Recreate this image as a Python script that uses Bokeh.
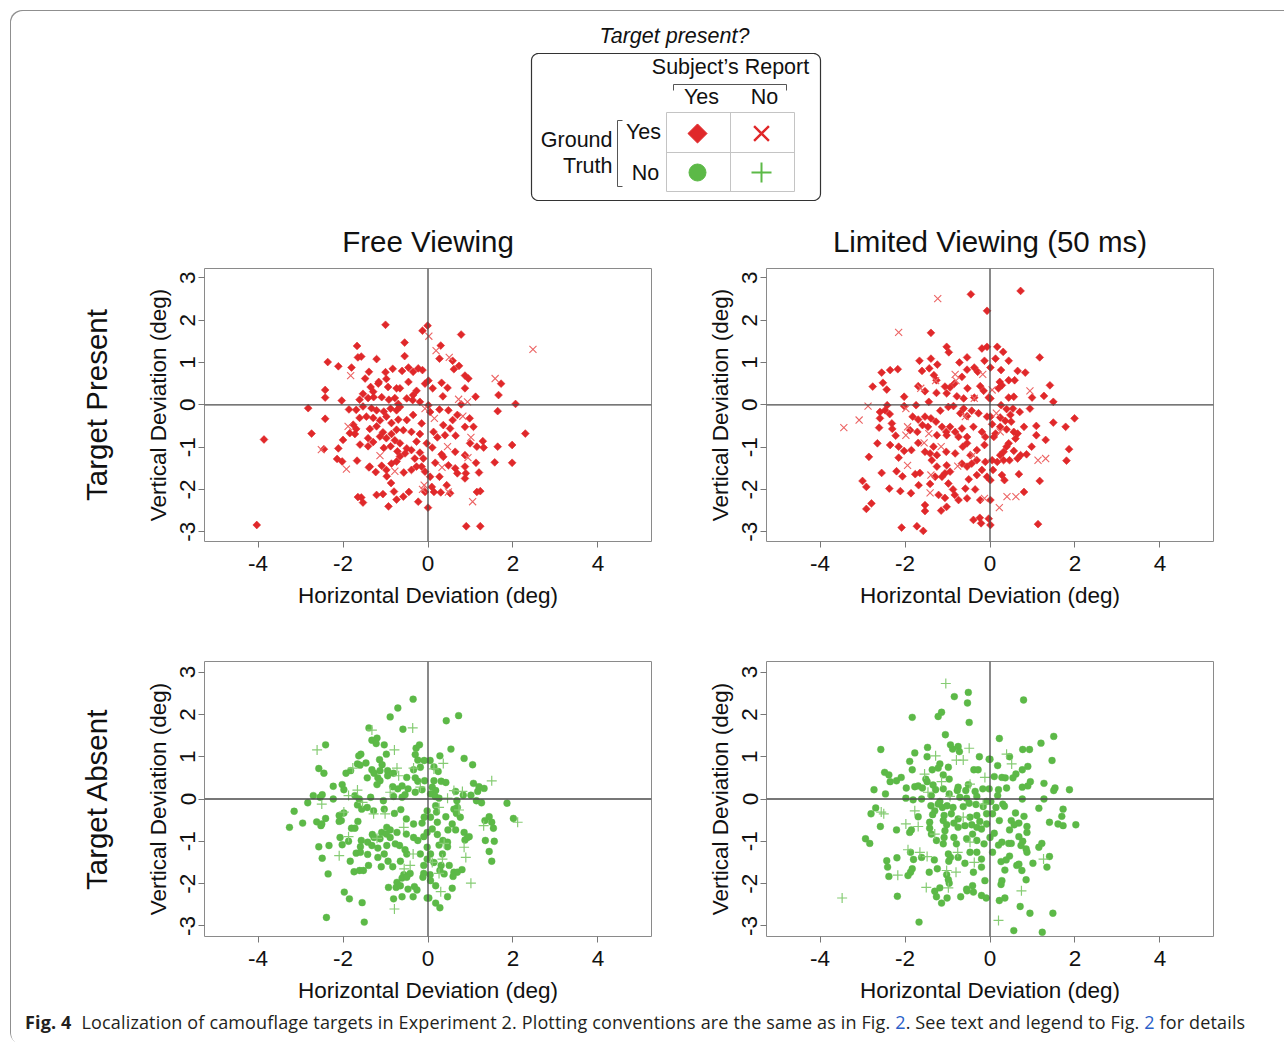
import math
import numpy as np
from bokeh.plotting import figure
from bokeh.layouts import column, row
from bokeh.models import Range1d, FixedTicker, LinearAxis, Span, Div
from bokeh.core.properties import value
from bokeh.embed import file_html
from bokeh.resources import INLINE

# ---------------- data (deg) ----------------
x_ticks = [-4, -2, 0, 2, 4]
y_ticks = [-3, -2, -1, 0, 1, 2, 3]
col_titles = ["Free Viewing", "Limited Viewing (50 ms)"]
row_titles = ["Target Present", "Target Absent"]
x_label = "Horizontal Deviation (deg)"
y_label = "Vertical Deviation (deg)"

# Free viewing, target present, reported "yes" (diamonds)
free_present_yes = [
    (-1.00,1.89),(-1.67,1.39),(-1.65,1.12),(-1.57,1.14),(-1.21,1.08),(-2.36,1.01),(-2.11,0.91),(-1.80,0.88),
    (-1.39,0.78),(-1.48,0.62),(-1.16,0.54),(-0.98,0.61),(-0.83,0.85),(-1.00,0.77),(-0.94,0.42),(-1.35,0.42),
    (-2.42,0.35),(-2.42,0.17),(-2.03,0.10),(-2.82,-0.08),(-1.86,-0.11),(-2.42,-0.33),(-2.74,-0.68),(-3.86,-0.82),
    (-4.03,-2.84),(-2.11,-1.03),(-2.45,-1.05),(-2.14,-1.28),(-2.02,-1.34),(-1.67,-1.32),(-1.60,-0.94),(-2.00,-0.83),
    (-1.84,-0.67),(-1.65,-2.18),(-1.57,-2.19),(-1.53,-2.31),(-1.21,-2.13),(-1.06,-2.11),(-0.93,-2.40),(-0.74,-2.24),
    (-0.80,-2.05),(-0.87,-1.85),(-0.97,-1.69),(-0.98,-1.54),(-1.39,-1.48),(-1.23,-1.59),(-1.09,-1.44),(-0.74,-1.34),
    (-0.86,-1.39),(-1.29,0.31),(-1.17,0.50),(-0.74,0.39),(-1.53,0.26),(-1.61,0.12),(-1.41,0.16),(-1.28,0.18),
    (-1.09,0.18),(-0.92,0.12),(-0.78,0.16),(-0.70,0.02),(-1.69,-0.12),(-1.53,-0.04),(-1.33,-0.08),(-1.21,-0.13),
    (-1.04,-0.16),(-0.88,-0.09),(-0.74,-0.13),(-1.76,-0.47),(-1.61,-0.31),(-1.45,-0.28),(-1.29,-0.31),(-1.13,-0.37),
    (-0.98,-0.28),(-0.86,-0.43),(-0.70,-0.35),(-1.69,-0.57),(-1.37,-0.57),(-1.21,-0.51),(-1.06,-0.65),(-0.86,-0.69),
    (-0.74,-0.59),(-1.72,-0.69),(-1.41,-0.79),(-1.29,-0.88),(-1.13,-0.75),(-0.98,-0.79),(-0.78,-0.84),(-1.41,-0.98),
    (-1.04,-1.02),(-0.88,-0.98),(-0.72,-1.10),(-0.66,-1.22),(-1.37,-1.46),
    (-0.01,1.87),(-0.13,1.75),(0.78,1.66),(-0.55,1.47),(0.30,1.40),(0.27,1.09),(0.58,1.04),(0.73,0.92),
    (0.61,0.84),(-0.55,1.15),(-0.61,0.80),(-0.46,0.88),(-0.35,0.78),(-0.23,0.86),(-0.13,0.82),(0.87,0.69),
    (0.95,0.62),(1.72,0.50),(0.01,0.57),(-0.07,0.50),(0.11,0.39),(0.32,0.52),(0.46,0.40),(0.87,0.39),
    (-0.66,0.39),(-0.46,0.54),(-0.27,0.33),(0.35,0.20),(1.12,0.19),(1.66,0.23),(0.78,0.01),(2.06,0.02),
    (-0.50,0.15),(-0.36,0.11),(-0.19,0.07),(0.01,-0.01),(0.27,-0.11),(0.48,-0.13),(0.05,-0.17),(1.64,-0.15),
    (0.69,-0.24),(0.58,-0.36),(0.98,-0.32),(1.07,-0.52),(0.87,-0.52),(0.52,-0.56),(0.36,-0.48),(-0.15,-0.44),
    (-0.35,-0.24),(-0.50,-0.36),(-0.58,-0.60),(-0.39,-0.64),(-0.19,-0.69),(0.13,-0.64),(2.29,-0.68),(0.65,-0.73),
    (0.40,-0.72),(0.22,-0.77),(1.29,-0.86),(0.99,-0.91),(1.15,-0.99),(1.31,-1.01),(1.64,-0.99),(1.98,-0.95),
    (0.10,-1.01),(0.64,-1.11),(0.32,-1.17),(0.36,-1.23),(0.87,-1.19),(-0.19,-1.13),(-0.39,-1.07),(-0.54,-1.15),
    (-0.50,-1.03),(1.13,-1.37),(1.57,-1.36),(1.98,-1.37),(0.17,-1.37),(0.48,-1.43),(0.64,-1.50),(0.69,-1.62),
    (0.87,-1.46),(0.89,-1.62),(1.20,-1.60),(0.87,-1.74),(-0.15,-1.46),(-0.07,-1.58),(-0.27,-1.46),(-0.39,-1.54),
    (-0.57,-1.60),(0.05,-1.70),(0.27,-1.70),(0.09,-1.94),(0.14,-2.06),(-0.07,-2.06),(0.30,-2.07),(0.44,-1.90),
    (0.52,-2.09),(1.15,-2.06),(1.23,-2.04),(-0.45,-2.06),(-0.58,-2.17),(-0.23,-2.29),(0.00,-2.43),(0.90,-2.87),
    (1.23,-2.87),(-0.35,0.23),(-0.66,-0.05),(-0.27,-0.87),(-0.03,-0.91),(-0.66,-0.91),(-0.11,-1.27),(-0.31,-1.27),
]
# Free viewing, target present, reported "no" (x)
free_present_no = [
    (-1.82,0.69),(-2.51,-1.06),(-1.92,-1.52),(-1.13,-1.20),(-1.88,-0.51),(-0.78,-1.57),(0.02,1.62),(0.19,1.28),
    (0.50,1.12),(2.47,1.31),(1.58,0.62),(0.72,0.13),(0.93,0.07),(-0.07,-0.09),(0.15,-0.32),(0.82,-0.27),
    (1.01,-0.77),(0.46,-0.99),(0.94,-1.25),(0.33,-1.48),(-0.09,-1.90),(-0.13,-2.00),(0.48,-2.06),(1.05,-2.29),
]
# Limited viewing, target present, reported "yes" (diamonds)
limited_present_yes = [
    (-0.45,2.61),(-0.07,2.22),(-1.39,1.70),(-1.02,1.37),(-0.97,1.24),(-0.19,1.33),(-0.07,1.37),(-1.66,1.04),
    (-1.39,1.09),(-1.24,0.95),(-0.72,1.00),(-0.54,1.12),(-0.13,1.04),(-2.55,0.76),(-2.35,0.82),(-2.17,0.84),
    (-1.60,0.80),(-1.43,0.86),(-1.32,0.70),(-1.26,0.58),(-0.54,0.83),(-0.37,0.88),(-0.29,0.78),(-0.66,0.66),
    (-2.76,0.43),(-2.52,0.52),(-2.43,0.36),(-1.69,0.44),(-1.53,0.32),(-1.06,0.43),(-0.94,0.41),(-0.84,0.50),
    (-1.02,0.27),(-1.26,0.28),(-0.53,0.39),(-0.23,0.44),(-0.15,0.33),(-2.02,0.19),(-0.78,0.20),(-0.62,0.15),
    (-0.37,0.17),(-0.03,0.17),(-1.44,0.07),(-1.74,-0.01),(-2.02,-0.03),(-2.42,-0.01),(-2.47,-0.13),(-2.59,-0.17),
    (-2.36,-0.22),(-2.59,-0.32),(-1.82,-0.28),(-1.69,-0.35),(-1.53,-0.28),(-1.17,-0.14),(-0.98,-0.05),(-0.86,-0.03),
    (-0.62,-0.09),(-0.70,-0.20),(-0.54,-0.27),(-0.43,-0.14),(-0.27,-0.20),(-0.07,-0.28),(-1.39,-0.32),(-1.27,-0.40),
    (-1.59,-0.48),(-1.46,-0.52),(-1.71,-0.64),(-2.31,-0.44),(-2.30,-0.57),(-2.61,-0.54),(-2.22,-0.73),(-1.88,-0.60),
    (-1.13,-0.52),(-1.03,-0.64),(-0.94,-0.52),(-0.82,-0.64),(-0.66,-0.56),(-0.74,-0.76),(-0.54,-0.76),(-0.39,-0.52),
    (-0.19,-0.64),(-0.11,-0.76),(-1.25,-0.72),(-1.02,-0.72),(-2.65,-0.91),(-2.85,-1.23),(-2.35,-0.95),(-2.15,-0.99),
    (-2.02,-1.09),(-1.85,-1.07),(-1.69,-0.90),(-1.53,-1.11),(-1.41,-1.15),(-1.33,-0.99),(-1.25,-1.19),(-1.03,-1.11),
    (-0.82,-1.15),(-0.64,-0.99),(-0.54,-0.91),(-0.46,-1.19),(-0.31,-1.07),(-0.13,-0.95),(-2.15,-1.25),(-1.37,-1.31),
    (-1.25,-1.46),(-1.02,-1.43),(-0.66,-1.39),(-0.54,-1.46),(-0.43,-1.39),(-0.31,-1.31),(-0.11,-1.35),(-2.55,-1.61),
    (-2.20,-1.57),(-2.06,-1.69),(-1.76,-1.64),(-1.65,-1.61),(-1.29,-1.70),(-1.13,-1.70),(-1.06,-1.62),(-0.94,-1.58),
    (-0.50,-1.76),(-0.31,-1.66),(-0.19,-1.54),(-0.07,-1.70),(-3.00,-1.80),(-2.91,-1.94),(-2.37,-1.98),(-2.11,-2.04),
    (-1.86,-2.09),(-1.68,-1.90),(-1.41,-1.87),(-1.21,-2.13),(-0.98,-1.86),(-0.87,-2.00),(-1.06,-2.20),(-0.83,-2.13),
    (-0.58,-1.98),(-0.35,-2.00),(-0.74,-2.25),(-0.54,-2.21),(-0.23,-2.25),(-2.79,-2.33),(-2.91,-2.46),(-1.53,-2.37),
    (-1.53,-2.51),(-1.15,-2.50),(-1.02,-2.41),(-0.39,-2.72),(-0.24,-2.67),(-0.21,-2.80),(-2.08,-2.90),(-1.72,-2.87),
    (-1.57,-2.98),
    (0.72,2.69),(0.17,1.37),(0.31,1.25),(0.13,1.09),(0.44,1.04),(1.17,1.12),(0.01,0.88),(0.26,0.82),
    (0.65,0.80),(0.83,0.76),(0.23,0.54),(0.20,0.39),(0.28,0.46),(0.44,0.58),(0.58,0.58),(1.41,0.46),
    (1.27,0.21),(1.49,0.07),(0.44,0.17),(0.56,0.19),(0.99,0.17),(0.01,0.15),(0.26,-0.01),(0.39,-0.10),
    (0.54,-0.09),(0.70,-0.17),(0.94,-0.09),(0.24,-0.30),(0.48,-0.24),(0.01,-0.28),(0.05,-0.46),(0.24,-0.52),
    (0.36,-0.38),(0.50,-0.40),(0.80,-0.52),(1.09,-0.50),(1.49,-0.42),(1.78,-0.52),(1.99,-0.32),(0.13,-0.68),
    (0.39,-0.58),(0.56,-0.64),(0.65,-0.68),(0.60,-0.80),(1.09,-0.72),(1.31,-0.83),(0.09,-0.76),(0.44,-0.91),
    (0.39,-0.99),(0.32,-1.11),(0.24,-1.19),(0.56,-1.09),(0.72,-1.19),(0.86,-1.17),(0.98,-0.99),(1.86,-1.05),
    (0.05,-1.31),(0.17,-1.35),(0.32,-1.31),(0.46,-1.31),(0.65,-1.27),(1.80,-1.32),(0.07,-1.54),(0.28,-1.66),
    (0.34,-1.78),(0.68,-1.64),(1.17,-1.80),(0.01,-1.78),(0.80,-2.06),(0.01,-2.25),(1.13,-2.82),(-0.03,-2.69),
    (0.01,-2.84),
]
# Limited viewing, target present, reported "no" (x)
limited_present_no = [
    (-1.23,2.51),(-2.15,1.71),(-1.28,0.57),(-0.82,0.72),(-0.17,0.72),(-0.80,0.57),(-1.63,0.39),(-0.37,0.15),
    (-1.98,-0.09),(-2.87,-0.03),(-3.08,-0.36),(-3.44,-0.54),(-0.58,-0.28),(-1.44,-0.68),(-1.94,-0.52),(-1.98,-0.72),
    (-1.55,-0.90),(-1.15,-0.99),(-0.40,-1.19),(-1.94,-1.43),(-0.76,-1.45),(-1.39,-1.66),(-1.41,-2.08),(-0.13,-2.21),
    (0.05,0.35),(0.94,0.33),(0.15,-0.20),(0.24,-0.64),(1.13,-1.31),(1.31,-1.27),(0.40,-2.17),(0.61,-2.17),(0.22,-2.43),
]
# Free viewing, target absent, reported "yes" (circles)
free_absent_yes = [
    (-0.35,2.36),(-0.71,2.15),(-0.89,1.94),(-0.59,1.65),(-1.39,1.68),(-1.20,1.44),(-1.32,1.39),(-1.22,1.31),
    (-1.03,1.28),(-2.41,1.28),(-0.98,1.06),(-1.58,1.06),(-1.63,1.02),(-0.28,1.20),(-0.20,1.28),(-0.30,1.05),
    (-0.24,0.92),(-0.09,0.91),(-1.14,0.93),(-1.46,0.85),(-1.66,0.83),(-1.60,0.80),(-1.08,0.81),(-2.57,0.72),
    (-2.45,0.61),(-1.93,0.61),(-1.82,0.67),(-1.32,0.69),(-1.27,0.61),(-1.13,0.67),(-0.95,0.67),(-0.81,0.61),
    (-0.34,0.69),(-0.18,0.75),(-1.43,0.50),(-1.18,0.50),(-1.13,0.43),(-0.95,0.55),(-0.50,0.51),(-0.30,0.50),
    (-0.24,0.42),(-0.08,0.43),(-2.23,0.30),(-2.02,0.34),(-1.98,0.22),(-1.20,0.34),(-0.83,0.29),(-0.71,0.24),
    (-0.61,0.31),(-0.47,0.24),(-0.30,0.16),(-0.14,0.22),(-2.70,0.08),(-2.49,0.10),(-2.54,0.04),(-2.23,0.00),
    (-1.72,0.08),(-1.62,0.00),(-1.35,0.04),(-1.05,-0.04),(-0.81,0.06),(-0.61,0.04),(-0.54,0.10),(-1.66,-0.14),
    (-1.43,-0.20),(-1.56,-0.24),(-2.83,-0.09),(-3.15,-0.29),(-2.95,-0.57),(-3.26,-0.67),(-2.62,-0.54),(-2.52,-0.63),
    (-2.41,-0.46),(-2.50,-0.59),(-2.09,-0.39),(-2.04,-0.51),(-1.98,-0.33),(-2.09,-0.53),(-1.65,-0.53),(-1.80,-0.69),
    (-1.72,-0.69),(-1.28,-0.28),(-1.03,-0.24),(-0.79,-0.34),(-0.64,-0.25),(-0.51,-0.47),(-0.34,-0.59),(-0.09,-0.43),
    (-0.02,-0.28),(-0.14,-0.57),(-0.97,-0.67),(-0.89,-0.73),(-1.09,-0.79),(-1.31,-0.84),(-1.27,-0.91),(-1.13,-0.94),
    (-0.98,-0.83),(-0.89,-0.91),(-0.73,-0.79),(-0.51,-0.83),(-0.34,-0.91),(-0.24,-0.98),(-0.10,-0.89),(-0.02,-0.79),
    (-2.07,-0.91),(-1.87,-1.00),(-2.02,-1.08),(-1.57,-0.98),(-1.42,-1.02),(-1.59,-1.13),(-1.32,-1.10),(-1.18,-1.16),
    (-0.97,-1.10),(-0.77,-1.06),(-0.67,-1.10),(-0.54,-1.20),(-0.50,-1.30),(-0.18,-1.30),(-0.02,-1.14),(-2.57,-1.13),
    (-2.33,-1.10),(-2.49,-1.40),(-1.83,-1.47),(-1.69,-1.28),(-1.59,-1.26),(-1.42,-1.31),(-1.40,-1.57),(-1.18,-1.38),
    (-1.10,-1.60),(-1.03,-1.30),(-0.94,-1.47),(-0.83,-1.60),(-0.65,-1.47),(-0.10,-1.57),(-0.02,-1.42),(-1.74,-1.72),
    (-1.61,-1.69),(-1.52,-1.69),(-2.35,-1.77),(-0.57,-1.79),(-0.42,-1.76),(-0.61,-1.87),(-0.50,-1.85),(-0.10,-1.76),
    (-0.12,-1.85),(-0.73,-1.97),(-0.93,-2.09),(-0.75,-2.09),(-0.65,-2.05),(-0.47,-2.13),(-0.32,-2.07),(-0.26,-2.15),
    (-1.97,-2.20),(-1.85,-2.36),(-1.55,-2.45),(-0.81,-2.36),(-0.61,-2.31),(-0.35,-2.31),(-0.02,-2.34),(-2.39,-2.80),
    (-1.50,-2.91),
    (0.72,1.97),(0.43,1.85),(0.54,1.18),(0.85,0.96),(1.05,0.81),(0.28,1.02),(0.05,0.91),(0.14,0.76),
    (0.24,0.65),(1.07,0.37),(1.20,0.29),(1.32,0.25),(1.17,0.18),(0.31,0.42),(0.42,0.39),(0.14,0.43),
    (0.10,0.28),(0.18,0.20),(0.65,0.18),(0.83,0.09),(1.01,0.09),(0.06,0.12),(0.17,0.06),(0.26,0.02),
    (1.86,-0.10),(1.14,-0.04),(1.26,-0.09),(0.68,-0.04),(0.69,-0.20),(0.61,-0.24),(0.67,-0.34),(0.76,-0.43),
    (0.42,-0.42),(0.18,-0.16),(0.20,-0.31),(0.06,-0.43),(1.44,-0.42),(1.34,-0.51),(1.50,-0.55),(1.54,-0.69),
    (2.01,-0.46),(0.57,-0.59),(0.65,-0.73),(0.85,-0.79),(0.93,-0.91),(0.87,-0.97),(0.97,-0.89),(0.22,-0.55),
    (0.10,-0.71),(0.22,-0.84),(0.47,-0.73),(0.35,-0.98),(1.35,-0.98),(1.56,-1.00),(0.26,-1.09),(0.46,-1.13),
    (0.46,-1.02),(1.44,-1.24),(0.06,-1.30),(0.34,-1.30),(1.50,-1.47),(0.14,-1.50),(0.31,-1.57),(0.50,-1.57),
    (0.61,-1.73),(0.69,-1.73),(0.80,-1.67),(0.59,-1.83),(0.38,-1.77),(0.28,-1.69),(0.05,-1.79),(0.06,-1.93),
    (0.18,-2.05),(0.57,-2.11),(0.46,-2.31),(0.18,-2.46),(0.28,-2.57),(0.02,-2.34),
]
# Free viewing, target absent, reported "no" (+)
free_absent_no = [
    (-0.36,1.68),(-1.32,1.63),(-2.61,1.16),(-0.79,1.16),(-1.77,0.73),(-0.73,0.73),(-0.69,0.55),(-0.34,0.73),
    (-0.18,0.28),(-1.66,0.21),(-1.87,0.08),(-0.89,0.16),(-1.54,-0.08),(-2.50,-0.12),(-1.98,-0.31),(-1.28,-0.35),
    (-1.01,-0.35),(-0.57,-0.67),(-1.20,-0.93),(-1.87,-0.89),(-0.35,-1.30),(-2.09,-1.34),(-0.42,-1.57),(-0.56,-1.65),
    (-0.79,-2.60),(0.36,0.84),(0.14,0.71),(1.50,0.43),(0.61,0.20),(0.81,0.18),(0.46,0.02),(0.73,-0.26),
    (0.26,-0.20),(2.11,-0.55),(1.31,-0.63),(0.38,-1.05),(0.85,-1.14),(0.89,-1.38),(0.34,-1.42),(0.10,-1.50),
    (0.26,-1.76),(1.01,-1.99),(0.30,-2.19),
]
# Limited viewing, target absent, reported "yes" (circles)
limited_absent_yes = [
    (-0.84,2.42),(-0.51,2.52),(-0.53,2.27),(-1.83,1.93),(-1.14,2.05),(-1.22,1.95),(-0.49,1.81),(-1.05,1.52),
    (-2.57,1.17),(-0.93,1.28),(-0.88,1.18),(-0.75,1.24),(-0.72,1.12),(-1.77,1.09),(-1.47,1.22),(-1.48,1.00),
    (-1.89,0.89),(-1.18,0.83),(-0.25,1.00),(-0.02,0.94),(-1.36,0.69),(-1.22,0.73),(-0.98,0.75),(-1.83,0.69),
    (-2.48,0.63),(-2.38,0.57),(-2.35,0.41),(-2.20,0.43),(-2.09,0.51),(-1.51,0.47),(-1.48,0.41),(-1.10,0.57),
    (-0.96,0.47),(-0.38,0.69),(-0.28,0.69),(-2.73,0.22),(-2.46,0.12),(-1.97,0.26),(-1.77,0.29),(-1.69,0.31),
    (-1.59,0.26),(-1.34,0.33),(-1.28,0.22),(-1.38,0.08),(-1.10,0.24),(-0.96,0.12),(-0.75,0.28),(-0.77,0.20),
    (-0.57,0.20),(-0.51,0.34),(-0.35,0.18),(-0.17,0.24),(-0.02,0.24),(-1.98,0.02),(-1.81,-0.02),(-1.61,0.00),
    (-1.18,-0.06),(-0.71,0.04),(-0.55,0.02),(-0.31,0.06),(-0.08,-0.06),(-2.69,-0.21),(-2.80,-0.35),(-2.58,-0.65),
    (-1.39,-0.16),(-1.22,-0.12),(-1.12,-0.20),(-1.01,-0.16),(-0.87,-0.20),(-0.63,-0.18),(-0.49,-0.10),(-0.33,-0.13),
    (-0.16,-0.18),(-1.69,-0.42),(-1.30,-0.28),(-1.35,-0.37),(-1.08,-0.39),(-0.91,-0.35),(-0.75,-0.47),(-0.47,-0.43),
    (-0.31,-0.39),(-0.24,-0.53),(-0.08,-0.35),(-1.85,-0.73),(-1.89,-0.79),(-2.20,-0.73),(-1.42,-0.55),(-1.42,-0.69),
    (-1.38,-0.83),(-1.10,-0.51),(-1.02,-0.61),(-1.06,-0.75),(-0.85,-0.57),(-0.75,-0.67),(-0.59,-0.63),(-0.43,-0.61),
    (-0.31,-0.67),(-0.20,-0.71),(-0.08,-0.59),(-2.93,-0.94),(-2.83,-1.05),(-1.26,-0.98),(-1.08,-0.91),(-1.10,-1.06),
    (-0.85,-0.91),(-0.79,-1.06),(-0.55,-0.94),(-0.41,-0.83),(-0.31,-0.98),(-0.14,-1.06),(0.00,-0.91),(-1.87,-1.26),
    (-1.61,-1.38),(-1.80,-1.43),(-2.19,-1.39),(-1.31,-1.44),(-0.98,-1.30),(-0.93,-1.38),(-0.75,-1.38),(-0.47,-1.26),
    (-0.31,-1.26),(-0.20,-1.42),(-0.59,-1.52),(-0.97,-1.47),(-2.43,-1.46),(-2.41,-1.61),(-2.38,-1.83),(-1.83,-1.65),
    (-1.87,-1.73),(-1.93,-1.81),(-1.43,-1.73),(-1.24,-1.65),(-1.02,-1.79),(-0.39,-1.73),(-0.20,-1.61),(-0.12,-1.93),
    (-0.98,-1.91),(-0.96,-1.99),(-1.18,-2.10),(-1.30,-2.18),(-1.26,-2.31),(-1.14,-2.46),(-1.01,-2.34),(-0.69,-2.31),
    (-0.55,-2.13),(-0.41,-2.05),(-0.54,-2.17),(-0.39,-2.20),(-0.20,-2.28),(-0.09,-2.34),(-2.18,-2.30),(-1.67,-2.91),
    (0.79,2.34),(0.22,1.43),(1.20,1.32),(1.50,1.48),(0.77,1.17),(0.93,1.17),(0.46,1.00),(0.00,0.94),
    (1.46,0.91),(0.18,0.79),(0.89,0.77),(0.76,0.69),(0.61,0.59),(0.54,0.50),(0.28,0.51),(0.36,0.50),
    (0.10,0.53),(1.27,0.37),(0.95,0.41),(0.89,0.31),(0.76,0.28),(0.39,0.26),(0.20,0.22),(1.53,0.26),
    (1.50,0.20),(1.87,0.22),(0.18,0.08),(0.02,-0.06),(0.76,0.00),(1.27,0.00),(0.30,-0.12),(0.34,-0.17),
    (0.14,-0.20),(1.15,-0.22),(1.72,-0.24),(0.60,-0.33),(0.80,-0.41),(0.06,-0.35),(0.22,-0.51),(0.50,-0.51),
    (0.68,-0.57),(0.57,-0.61),(0.87,-0.65),(0.46,-0.73),(1.40,-0.55),(1.60,-0.59),(1.72,-0.63),(1.69,-0.41),
    (2.02,-0.61),(0.68,-0.89),(0.87,-0.79),(0.10,-0.81),(0.28,-1.02),(0.44,-1.05),(0.50,-1.05),(0.77,-1.00),
    (0.73,-1.10),(0.85,-1.18),(0.87,-1.26),(1.15,-1.14),(1.22,-1.05),(0.20,-1.09),(0.06,-1.26),(0.46,-1.35),
    (0.38,-1.44),(0.26,-1.48),(1.01,-1.52),(1.40,-1.36),(1.34,-1.61),(0.63,-1.57),(0.68,-1.54),(0.75,-1.69),
    (0.35,-1.68),(0.85,-1.91),(0.28,-1.93),(0.26,-2.02),(0.22,-2.40),(0.35,-2.34),(0.71,-2.54),(0.94,-2.70),
    (1.48,-2.70),(0.56,-3.11),(1.23,-3.15),
]
# Limited viewing, target absent, reported "no" (+)
limited_absent_no = [
    (-1.04,2.73),(-0.49,1.20),(-1.28,1.02),(-0.79,0.92),(-0.63,0.92),(-1.54,0.59),(-1.14,0.41),(-0.12,0.51),
    (-1.46,0.16),(-0.94,0.06),(-0.47,0.35),(-2.56,-0.31),(-2.50,-0.35),(-1.77,-0.28),(-0.63,-0.43),(-1.98,-0.59),
    (-1.69,-0.65),(-1.30,-0.83),(-0.47,-1.02),(-1.93,-1.20),(-1.65,-1.26),(-1.48,-1.36),(-0.76,-1.26),(-0.37,-1.50),
    (-2.17,-1.80),(-1.02,-1.69),(-0.80,-1.73),(-1.50,-2.09),(-0.98,-2.10),(-3.48,-2.34),(0.39,1.06),(0.51,0.83),
    (1.26,-1.42),(0.74,-2.17),(0.20,-2.87),(-0.16,-0.12),
]

# ---------------- styles ----------------
FONT = "Liberation Sans"
RED = "#e0282a"
RED_X = "#ec6464"
GREEN = "#5cb947"
GREEN_P = "#86cc74"
INK = "#111111"


def xy(pts):
    a = np.array(pts, dtype=float)
    return a[:, 0], a[:, 1]


def make_panel(yes_pts, no_pts, present, title, row_label, mb_left, mb_right, mb_top, mb_bottom, frame_h, yr):
    p = figure(frame_width=447, frame_height=frame_h, x_range=Range1d(-5.26, 5.26), y_range=Range1d(*yr),
               output_backend="svg", toolbar_location=None,
               min_border_left=mb_left, min_border_right=mb_right, min_border_top=mb_top,
               min_border_bottom=mb_bottom)
    p.border_fill_color = None
    p.background_fill_color = "white"
    p.outline_line_color = "#8a8a8a"
    p.outline_line_width = 1
    p.grid.visible = False

    xa = p.xaxis[0]
    xa.ticker = FixedTicker(ticks=x_ticks)
    xa.major_label_overrides = {t: str(t) for t in x_ticks}
    xa.axis_label = x_label
    ya = p.yaxis[0]
    ya.ticker = FixedTicker(ticks=y_ticks)
    ya.major_label_overrides = {t: str(t) for t in y_ticks}
    ya.axis_label = y_label
    ya.major_label_orientation = "vertical"
    for ax in (xa, ya):
        ax.axis_line_color = None
        ax.major_tick_out = 6
        ax.major_tick_in = 0
        ax.major_tick_line_color = "#777777"
        ax.minor_tick_line_color = None
        ax.major_label_text_font = FONT
        ax.major_label_text_font_size = "22.5px"
        ax.major_label_text_color = INK
        ax.axis_label_text_font = FONT
        ax.axis_label_text_font_size = "22.5px"
        ax.axis_label_text_font_style = "normal"
        ax.axis_label_text_color = INK
    xa.major_label_standoff = 8
    xa.axis_label_standoff = 9
    ya.major_label_standoff = 3
    ya.axis_label_standoff = 7

    def label_axis(text, size, standoff):
        return LinearAxis(ticker=FixedTicker(ticks=[]), axis_label=text, axis_line_color=None,
                          major_tick_line_color=None, minor_tick_line_color=None, major_tick_out=0,
                          major_tick_in=0, major_label_standoff=0, axis_label_standoff=standoff,
                          axis_label_text_font=FONT, axis_label_text_font_size=size,
                          axis_label_text_font_style="normal", axis_label_text_color=INK)

    if row_label:
        p.add_layout(label_axis(row_label, "29.5px", 30), "left")
    if title:
        p.add_layout(label_axis(title, "29.5px", 11), "above")

    yx, yy = xy(yes_pts)
    nx, ny = xy(no_pts)
    if present:
        p.scatter(yx, yy, marker="square", angle=math.pi / 4, size=5.5, fill_color=RED,
                  line_color=RED, line_width=0.6)
        p.scatter(nx, ny, marker="x", size=10, line_color=RED_X, line_width=1.1)
    else:
        p.scatter(yx, yy, marker="circle", size=6.9, fill_color=GREEN, line_color=GREEN, line_width=0.4)
        p.scatter(nx, ny, marker="cross", size=10, line_color=GREEN_P, line_width=1.2)

    p.add_layout(Span(location=0, dimension="width", line_color="#4a4a4a", line_width=1.3))
    p.add_layout(Span(location=0, dimension="height", line_color="#4a4a4a", line_width=1.3))
    return p


TOP_YR = (-3.23, 3.22)
BOT_YR = (-3.25, 3.25)
p1 = make_panel(free_present_yes, free_present_no, True, col_titles[0], row_titles[0], 194, 15, 62, 87, 273, TOP_YR)
p2 = make_panel(limited_present_yes, limited_present_no, True, col_titles[1], None, 100, 61, 62, 87, 273, TOP_YR)
p3 = make_panel(free_absent_yes, free_absent_no, False, None, row_titles[1], 194, 15, 33, 72, 275, BOT_YR)
p4 = make_panel(limited_absent_yes, limited_absent_no, False, None, None, 100, 61, 33, 72, 275, BOT_YR)

# ---------------- header (legend key) ----------------
HW, HH = 1264, 196
h = figure(width=HW, height=HH, x_range=Range1d(2, 2 + HW), y_range=Range1d(0, HH),
           output_backend="svg", toolbar_location=None, min_border=0,
           x_axis_location=None, y_axis_location=None)
h.grid.visible = False
h.outline_line_color = None
h.border_fill_color = None
h.background_fill_color = None


def rounded_rect(l, r, b, t, rad, n=10):
    xs, ys = [], []
    for cx, cy, a0, a1 in [(r - rad, t - rad, 0, 90), (l + rad, t - rad, 90, 180),
                           (l + rad, b + rad, 180, 270), (r - rad, b + rad, 270, 360)]:
        for a in np.linspace(math.radians(a0), math.radians(a1), n):
            xs.append(cx + rad * math.cos(a))
            ys.append(cy + rad * math.sin(a))
    xs.append(xs[0]); ys.append(ys[0])
    return xs, ys


bx, by = rounded_rect(523, 812, 6, 153, 7)
h.line(bx, by, line_color="#333333", line_width=1.2)
# key grid
h.quad(left=[658], right=[786], bottom=[15], top=[94], fill_color=None, line_color="#c4c4c4", line_width=1)
h.multi_line([[722, 722], [658, 786]], [[15, 94], [54, 54]], line_color="#c4c4c4", line_width=1)
# brackets
h.multi_line([[665, 665, 778, 778], [614, 609, 609, 614]], [[116, 122, 122, 116], [86, 86, 20, 20]],
             line_color="#555555", line_width=1)
# key markers
h.scatter([689], [73], marker="square", angle=math.pi / 4, size=13.5, fill_color=RED, line_color=RED)
h.scatter([753], [73], marker="x", size=21, line_color=RED, line_width=2.4)
h.scatter([689], [34], marker="circle", size=17, fill_color=GREEN, line_color=GREEN)
h.scatter([753], [34], marker="cross", size=20, line_color=GREEN, line_width=2)
# key texts
tkw = dict(text_font=value(FONT), text_font_size="21.5px", text_color=INK, text_baseline="alphabetic")
h.text([666], [171], text=["Target present?"], text_align="center", text_font_style="italic", **tkw)
h.text([722], [139.5], text=["Subject’s Report"], text_align="center", **tkw)
h.text([693, 756], [109.5, 109.5], text=["Yes", "No"], text_align="center", **tkw)
h.text([635, 637], [74.5, 33.5], text=["Yes", "No"], text_align="center", **tkw)
h.text([604, 604], [66.5, 40.5], text=["Ground", "Truth"], text_align="right", **tkw)

# ---------------- caption ----------------
cap_html = ('<div style="padding-left:10px; font-family: \'Open Sans\', sans-serif; font-size:18px; '
            'letter-spacing:0.15px; line-height:18px; white-space:nowrap; color:#231f20;">'
            '<b style="margin-right:10px">Fig. 4</b>'
            'Localization of camouflage targets in Experiment 2. Plotting conventions are the same as in Fig. '
            '<span style="color:#2a5fc9">2</span>. See text and legend to Fig. '
            '<span style="color:#2a5fc9">2</span> for details</div>')
cap = Div(text=cap_html, width=1264, height=26)

layout = column(h, row(p1, p2), row(p3, p4), cap, margin=(10, 0, 0, 10),
                styles={"box-shadow": "inset 1px 1px 0 0 #8f8f8f", "border-radius": "12px 0 0 12px"})

open("out.html", "w").write(file_html(layout, INLINE))
